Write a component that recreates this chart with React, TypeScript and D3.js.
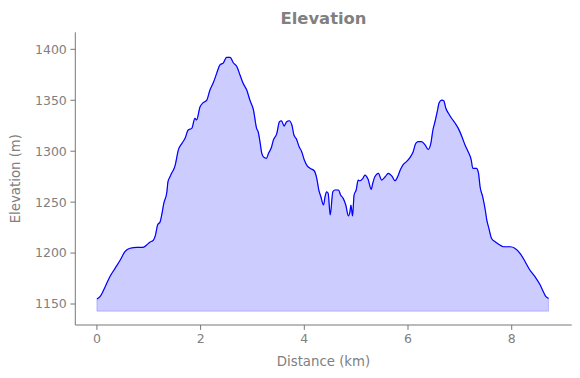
import React from "react";
import * as d3 from "d3";

const distanceKm: number[] = [
  0.0, 0.06, 0.16, 0.25, 0.35, 0.45, 0.54, 0.64, 0.77, 0.89, 0.96, 1.02, 1.09, 1.13, 1.17, 1.22, 1.25, 1.29, 1.35, 1.37,
  1.41, 1.44, 1.49, 1.51, 1.57, 1.64, 1.7, 1.76, 1.83, 1.89, 1.92, 1.99, 2.05, 2.12, 2.18, 2.24, 2.31, 2.37, 2.44, 2.5,
  2.57, 2.63, 2.7, 2.76, 2.82, 2.89, 2.95, 3.02, 3.08, 3.11, 3.15, 3.18, 3.22, 3.27, 3.31, 3.37, 3.4, 3.47, 3.52, 3.56,
  3.61, 3.66, 3.71, 3.76, 3.8, 3.85, 3.9, 3.95, 4.0, 4.06, 4.11, 4.19, 4.24, 4.28, 4.32, 4.37, 4.4, 4.43, 4.46, 4.5,
  4.55, 4.59, 4.66, 4.7, 4.75, 4.8, 4.85, 4.88, 4.9, 4.93, 4.96, 5.0, 5.04, 5.07, 5.13, 5.17, 5.23, 5.29, 5.32, 5.36,
  5.43, 5.49, 5.56, 5.62, 5.69, 5.75, 5.8, 5.85, 5.91, 5.97, 6.04, 6.1, 6.15, 6.2, 6.26, 6.33, 6.39, 6.44, 6.48, 6.52,
  6.57, 6.6, 6.65, 6.69, 6.73, 6.78, 6.84, 6.91, 6.97, 7.04, 7.1, 7.16, 7.22, 7.25, 7.32, 7.36, 7.39, 7.44, 7.49, 7.52,
  7.56, 7.61, 7.68, 7.74, 7.84, 7.97, 8.06, 8.16, 8.26, 8.35, 8.45, 8.55, 8.61, 8.66, 8.71,
];

const elevationM: number[] = [
  1155, 1157.2, 1167, 1176.8, 1185, 1193.2, 1201.3, 1204.7, 1205.6, 1205.6, 1207.9, 1210.6, 1212.8, 1217.7, 1227.5, 1230.8, 1237.4, 1248.8, 1260.2, 1270,
  1274.9, 1278.3, 1283.2, 1286.4, 1301.1, 1307.7, 1312.6, 1320.8, 1322.4, 1332.3, 1330.6, 1343.6, 1347.6, 1350.2, 1360, 1366.6, 1376.4, 1384.6, 1386.8, 1392.1,
  1392.1, 1386.8, 1382.9, 1374.8, 1366.6, 1360, 1350.2, 1340.4, 1322.4, 1319.1, 1307.7, 1297.9, 1294, 1293, 1297.9, 1304.4, 1310.3, 1317.5, 1328.9, 1329.9,
  1324.7, 1328.9, 1329.9, 1325.7, 1315.9, 1311.7, 1304.4, 1299.5, 1291.3, 1285.4, 1283.2, 1280.8, 1273.4, 1261.9, 1255.3, 1247.2, 1255.3, 1260.2, 1258.7, 1237.4,
  1260.2, 1261.9, 1261.9, 1257, 1253.7, 1247.2, 1236.4, 1240.6, 1247.2, 1236.4, 1257, 1261.9, 1271.7, 1271, 1273.4, 1276.6, 1272.4, 1262.6, 1268.5, 1274.9,
  1278.3, 1271.7, 1274.9, 1278.3, 1275.6, 1271, 1274.9, 1281.5, 1287.1, 1289.7, 1294, 1299.5, 1307.7, 1309.3, 1309.3, 1306.1, 1301.8, 1307.7, 1320.8, 1328.9,
  1340.4, 1347.6, 1350.2, 1349.5, 1342.1, 1337.2, 1332.3, 1327.4, 1322.4, 1314.2, 1306.1, 1299.5, 1291.3, 1283.2, 1283.2, 1278.3, 1265.1, 1255.3, 1242.3, 1232.4,
  1224.3, 1214.5, 1211.1, 1208.9, 1206.2, 1206.2, 1204.7, 1199.8, 1191.5, 1183.4, 1176.8, 1168.6, 1162.1, 1157.2, 1155.6,
];

const fillBaseM = 1143;
const xTicks: number[] = [0, 2, 4, 6, 8];
const yTicks: number[] = [1150, 1200, 1250, 1300, 1350, 1400];
const titleText = "Elevation";
const xLabelText = "Distance (km)";
const yLabelText = "Elevation (m)";

export default function App() {
  const W = 580;
  const H = 378;
  const left = 75.3;
  const right = 571.7;
  const top = 32.3;
  const bottom = 325;

  const x = d3.scaleLinear().domain([-0.4166, 9.157]).range([left, right]);
  const y = d3.scaleLinear().domain([1129.4, 1416.7]).range([bottom, top]);

  const pts = distanceKm.map((d, i) => [d, elevationM[i]] as [number, number]);

  const area = d3
    .area<[number, number]>()
    .x((d) => x(d[0]))
    .y0(() => y(fillBaseM))
    .y1((d) => y(d[1]))
    .curve(d3.curveMonotoneX);
  const line = d3
    .line<[number, number]>()
    .x((d) => x(d[0]))
    .y((d) => y(d[1]))
    .curve(d3.curveMonotoneX);

  const textColor = "#808080";
  const spineColor = "#777777";
  const font = "DejaVu Sans, sans-serif";

  return (
    <svg width={W} height={H} style={{ position: "absolute", left: 0, top: 0, background: "#fff" }}>
      <path d={area(pts) || ""} fill="rgba(0,0,255,0.2)" stroke="rgba(0,0,255,0.2)" strokeWidth={1} />
      <path d={line(pts) || ""} fill="none" stroke="#0000ff" strokeWidth={1.2} />

      <line x1={left} x2={left} y1={top} y2={bottom} stroke={spineColor} strokeWidth={1} />
      <line x1={left} x2={right} y1={bottom} y2={bottom} stroke={spineColor} strokeWidth={1} />

      {yTicks.map((t) => (
        <g key={"y" + t}>
          <line x1={left - 4.9} x2={left} y1={y(t)} y2={y(t)} stroke={spineColor} strokeWidth={1} />
          <text x={left - 8.5} y={y(t)} dy="0.35em" textAnchor="end" fontFamily={font} fontSize={12.5} fill={textColor}>
            {t}
          </text>
        </g>
      ))}
      {xTicks.map((t) => (
        <g key={"x" + t}>
          <line x1={x(t)} x2={x(t)} y1={bottom} y2={bottom + 4.9} stroke={spineColor} strokeWidth={1} />
          <text x={x(t)} y={bottom + 8.5} dy="0.76em" textAnchor="middle" fontFamily={font} fontSize={12.5} fill={textColor}>
            {t}
          </text>
        </g>
      ))}

      <text x={(left + right) / 2} y={366} textAnchor="middle" fontFamily={font} fontSize={13.3} fill={textColor}>
        {xLabelText}
      </text>
      <text
        transform={`translate(20,${(top + bottom) / 2}) rotate(-90)`}
        textAnchor="middle"
        fontFamily={font}
        fontSize={13.3}
        fill={textColor}
      >
        {yLabelText}
      </text>
      <text x={(left + right) / 2} y={24} textAnchor="middle" fontFamily={font} fontSize={16.4} fontWeight="bold" fill={textColor}>
        {titleText}
      </text>
    </svg>
  );
}
